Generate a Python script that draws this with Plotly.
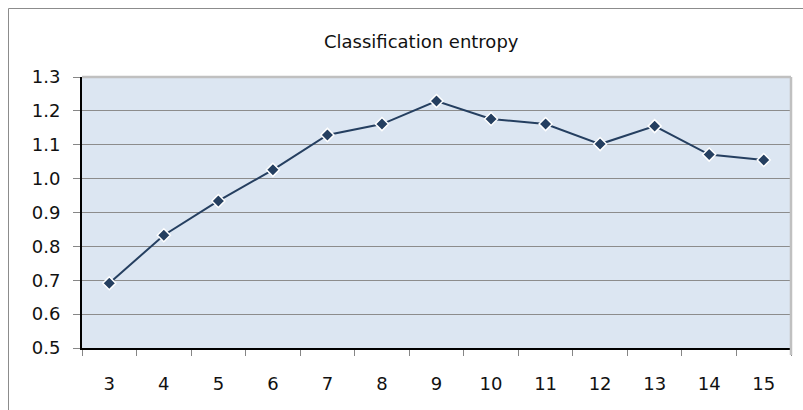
import plotly.graph_objects as go

categories = ["3", "4", "5", "6", "7", "8", "9", "10", "11", "12", "13", "14", "15"]
entropy = [0.691, 0.833, 0.934, 1.026, 1.129, 1.161, 1.229, 1.176, 1.161, 1.102, 1.155, 1.071, 1.055]
y_ticks = [0.5, 0.6, 0.7, 0.8, 0.9, 1.0, 1.1, 1.2, 1.3]
title_text = "Classification entropy"

W, H = 803, 410
L, R, T, B = 82, 12, 77, 62
pw, ph = W - L - R, H - T - B

font = "DejaVu Sans"
line_col = "#253F60"

fig = go.Figure()
fig.add_trace(go.Scatter(
    x=categories, y=entropy, mode="lines+markers",
    line=dict(color=line_col, width=2),
    marker=dict(symbol="diamond", size=10, color=line_col,
                line=dict(color="white", width=1.5)),
    cliponaxis=False, showlegend=False,
))

def px_x(v):
    return (v - L) / pw

def px_y(v):
    return 1 - (v - T) / ph

shapes = [
    dict(type="rect", xref="paper", yref="paper",
         x0=px_x(8.5), x1=px_x(830), y0=px_y(8.5), y1=px_y(440),
         line=dict(color="#8c8c8c", width=1), fillcolor="rgba(0,0,0,0)", layer="below"),
    dict(type="line", xref="paper", yref="paper", x0=0, x1=1, y0=1, y1=1,
         line=dict(color="#c0c0c0", width=2.5), layer="above"),
    dict(type="line", xref="paper", yref="paper", x0=1, x1=1, y0=1, y1=px_y(355),
         line=dict(color="#c0c0c0", width=2.5), layer="above"),
]

fig.update_layout(
    width=W, height=H,
    margin=dict(l=L, r=R, t=T, b=B),
    paper_bgcolor="white",
    plot_bgcolor="#DCE6F2",
    font=dict(family=font, size=18, color="#111111"),
    shapes=shapes,
    annotations=[dict(text=title_text, xref="paper", yref="paper",
                      x=px_x(421), y=px_y(42), xanchor="center", yanchor="middle",
                      showarrow=False, font=dict(family=font, size=18, color="#111111"))],
    xaxis=dict(
        type="category", range=[-0.5, len(categories) - 0.5],
        tickson="boundaries", ticks="outside", ticklen=6,
        tickcolor="#868686", tickwidth=1,
        showgrid=False, showline=True, linecolor="black", linewidth=2,
        ticklabelstandoff=18, zeroline=False,
    ),
    yaxis=dict(
        range=[0.5, 1.3], tickvals=y_ticks, tickformat=".1f",
        ticks="outside", ticklen=7, tickcolor="#868686", tickwidth=1,
        showgrid=True, gridcolor="#8c8c8c", gridwidth=1,
        showline=True, linecolor="black", linewidth=2,
        ticklabelstandoff=9, zeroline=False,
    ),
)

fig.write_html("out.html")
